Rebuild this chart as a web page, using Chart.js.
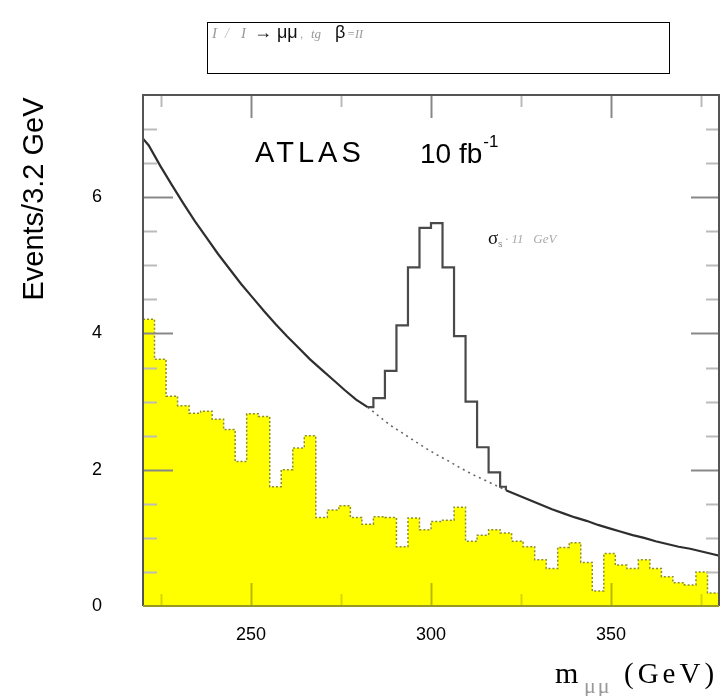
<!DOCTYPE html>
<html>
<head>
<meta charset="utf-8">
<script src="https://cdn.jsdelivr.net/npm/chart.js@4.4.1/dist/chart.umd.min.js"></script>
<style>
  html, body { margin: 0; padding: 0; background: #fff; }
  #wrap { width: 721px; height: 696px; }
</style>
</head>
<body>
<div id="wrap"><canvas id="massChart" width="721" height="696"></canvas></div>
<script>
// m_mumu axis: 50 bins of 3.2 GeV between 220 and 380
var massMin = 220, massMax = 380, binWidth = 3.2;
var xTickLabels = [250, 300, 350];
var yTickLabels = [0, 2, 4, 6];

// smooth background curve (solid, dotted under the peak), read at bin centres
var bkgMass = [220.0, 221.6, 224.8, 228.0, 231.2, 234.4, 237.6, 240.8, 244.0, 247.2, 250.4,
               253.6, 256.8, 260.0, 263.2, 266.4, 269.6, 272.8, 276.0, 279.2, 282.4,
               285.6, 288.8, 292.0, 295.2, 298.4, 301.6, 304.8, 308.0, 311.2, 314.4,
               317.6, 320.8, 324.0, 327.2, 330.4, 333.6, 336.8, 340.0, 343.2, 346.4,
               349.6, 352.8, 356.0, 359.2, 362.4, 365.6, 368.8, 372.0, 375.2, 378.4, 380.0];
var bkgEvents = [6.86, 6.76, 6.46, 6.18, 5.91, 5.65, 5.41, 5.17, 4.95, 4.73, 4.53,
                 4.33, 4.14, 3.96, 3.79, 3.62, 3.47, 3.32, 3.17, 3.03, 2.92,
                 2.78, 2.65, 2.54, 2.43, 2.32, 2.22, 2.13, 2.03, 1.94, 1.86,
                 1.78, 1.70, 1.63, 1.56, 1.49, 1.42, 1.36, 1.30, 1.25, 1.19,
                 1.14, 1.09, 1.04, 1.00, 0.95, 0.91, 0.87, 0.84, 0.80, 0.76, 0.74];
var dottedFrom = 282.4, dottedTo = 320.8;

// signal + background step histogram over the peak (bin low edges)
var peakEdges = [284.0, 287.2, 290.4, 293.6, 296.8, 300.0, 303.2, 306.4, 309.6, 312.8, 316.0, 319.2];
var peakEvents = [3.05, 3.45, 4.12, 4.97, 5.55, 5.62, 4.97, 3.96, 3.00, 2.33, 1.96];
var peakJoinLeft = { x: 282.4, y: 2.92 };
var peakJoinRight = { x: 320.8, y: 1.70 };
var peakEnd = 1.75;

// yellow histogram
var yellowEvents = [4.21, 3.62, 3.08, 2.94, 2.83, 2.86, 2.74, 2.59, 2.12, 2.82,
                    2.78, 1.75, 2.00, 2.32, 2.50, 1.30, 1.41, 1.47, 1.30, 1.20,
                    1.31, 1.30, 0.87, 1.29, 1.12, 1.24, 1.26, 1.45, 0.95, 1.04,
                    1.12, 1.07, 0.95, 0.87, 0.68, 0.55, 0.86, 0.93, 0.64, 0.22,
                    0.77, 0.60, 0.55, 0.68, 0.55, 0.43, 0.34, 0.31, 0.50, 0.19];

function histPoints(vals) {
  var pts = [];
  for (var i = 0; i < vals.length; i++) {
    pts.push({ x: massMin + i * binWidth, y: vals[i] });
  }
  pts.push({ x: massMin + vals.length * binWidth, y: vals[vals.length - 1] });
  return pts;
}

var bkgPoints = bkgMass.map(function (m, i) { return { x: m, y: bkgEvents[i] }; });

var peakPoints = [peakJoinLeft];
peakEvents.forEach(function (v, i) { peakPoints.push({ x: peakEdges[i], y: v }); });
peakPoints.push({ x: peakEdges[peakEdges.length - 1], y: peakEnd });
peakPoints.push(peakJoinRight);

function underPeak(c) {
  var x0 = c.p0.parsed.x;
  return x0 >= dottedFrom && x0 < dottedTo;
}

var decorations = {
  id: 'decorations',
  afterDraw: function (chart) {
    var ctx = chart.ctx, a = chart.chartArea;
    var xs = chart.scales.x, ys = chart.scales.y;
    ctx.save();

    function vline(x, y0, y1, col) {
      ctx.strokeStyle = col; ctx.lineWidth = 2;
      ctx.beginPath(); ctx.moveTo(x, y0); ctx.lineTo(x, y1); ctx.stroke();
    }
    function hline(y, x0, x1, col) {
      ctx.strokeStyle = col; ctx.lineWidth = 2;
      ctx.beginPath(); ctx.moveTo(x0, y); ctx.lineTo(x1, y); ctx.stroke();
    }
    for (var m = 225; m < massMax; m += 25) {
      var px = Math.round(xs.getPixelForValue(m)) + 0.5;
      var major = (m % 50 === 0);
      vline(px, a.top, a.top + (major ? 23 : 12), major ? '#888' : '#bbb');
      vline(px, a.bottom, a.bottom - (major ? 23 : 12), major ? '#b8b800' : '#d6d600');
    }
    for (var v = 0.5; v < 7.5; v += 0.5) {
      var py = Math.round(ys.getPixelForValue(v)) + 0.5;
      var maj = (v % 2 === 0);
      hline(py, a.left, a.left + (maj ? 30 : 14), maj ? '#888' : '#bbb');
      hline(py, a.right, a.right - (maj ? 28 : 13), maj ? '#888' : '#bbb');
    }

    // frame
    ctx.strokeStyle = '#555'; ctx.lineWidth = 2;
    ctx.beginPath();
    ctx.moveTo(a.left, a.bottom); ctx.lineTo(a.left, a.top);
    ctx.lineTo(a.right, a.top); ctx.lineTo(a.right, a.bottom);
    ctx.stroke();
    ctx.strokeStyle = '#9a9a20';
    ctx.beginPath(); ctx.moveTo(a.left, a.bottom); ctx.lineTo(a.right, a.bottom); ctx.stroke();

    // title box
    ctx.strokeStyle = '#000'; ctx.lineWidth = 1;
    ctx.strokeRect(207.5, 22.5, 462, 51);
    var parts = [
      ['I', 212, '#999', 'italic 15px "Liberation Serif", serif'],
      ['/', 225, '#bbb', 'italic 14px "Liberation Serif", serif'],
      ['I', 241, '#999', 'italic 15px "Liberation Serif", serif'],
      ['\u2192', 254, '#111', '18px "Liberation Sans", sans-serif'],
      ['\u03bc\u03bc', 277, '#111', '18px "Liberation Sans", sans-serif'],
      [',', 300, '#aaa', '12px "Liberation Sans", sans-serif'],
      ['tg', 311, '#999', 'italic 13px "Liberation Serif", serif'],
      ['\u03b2', 335, '#111', '18px "Liberation Sans", sans-serif'],
      ['=II', 347, '#999', 'italic 12px "Liberation Serif", serif']
    ];
    ctx.textBaseline = 'alphabetic'; ctx.textAlign = 'left';
    parts.forEach(function (p) {
      ctx.font = p[3]; ctx.fillStyle = p[2];
      ctx.fillText(p[0], p[1], 38);
    });

    // ATLAS label
    ctx.fillStyle = '#000';
    ctx.font = '29px "Liberation Sans", sans-serif';
    if ('letterSpacing' in ctx) ctx.letterSpacing = '4px';
    ctx.fillText('ATLAS', 255, 162);
    if ('letterSpacing' in ctx) ctx.letterSpacing = '0px';
    ctx.font = '28px "Liberation Sans", sans-serif';
    ctx.fillText('10 fb', 420, 163);
    var w = ctx.measureText('10 fb').width;
    ctx.font = '17px "Liberation Sans", sans-serif';
    ctx.fillText('-1', 421 + w, 147);

    // sigma label
    ctx.font = '19px "Liberation Serif", serif';
    ctx.fillStyle = '#111';
    ctx.fillText('\u03c3', 488, 244);
    ctx.font = '9px "Liberation Sans", sans-serif';
    ctx.fillStyle = '#888';
    ctx.fillText('s', 498, 247);
    ctx.font = 'italic 13px "Liberation Serif", serif';
    ctx.fillStyle = '#aaa';
    ctx.fillText('\u00b7 11   GeV', 505, 243);

    // y axis title
    ctx.save();
    ctx.translate(43, 199);
    ctx.rotate(-Math.PI / 2);
    ctx.font = '29px "Liberation Sans", sans-serif';
    var tw = ctx.measureText('Events/3.2 GeV').width;
    ctx.scale(203 / tw, 1);
    ctx.textAlign = 'center';
    ctx.fillStyle = '#000';
    ctx.fillText('Events/3.2 GeV', 0, 0);
    ctx.restore();

    // x axis title
    ctx.textAlign = 'left';
    ctx.fillStyle = '#000';
    ctx.font = '30px "Liberation Serif", serif';
    ctx.fillText('m', 555, 683);
    ctx.font = '22px "Liberation Serif", serif';
    ctx.fillStyle = '#999';
    if ('letterSpacing' in ctx) ctx.letterSpacing = '2px';
    ctx.fillText('\u03bc\u03bc', 584, 693);
    ctx.fillStyle = '#000';
    ctx.font = '29px "Liberation Serif", serif';
    if ('letterSpacing' in ctx) ctx.letterSpacing = '4px';
    ctx.fillText('(GeV)', 624, 683);
    if ('letterSpacing' in ctx) ctx.letterSpacing = '0px';

    ctx.restore();
  }
};

var ctx = document.getElementById('massChart');

var massChart = new Chart(ctx, {
  type: 'line',
  data: {
    datasets: [
      {
        label: 'peak',
        data: peakPoints,
        stepped: 'before',
        borderColor: '#4a4a4a',
        borderWidth: 2.2,
        pointRadius: 0,
        fill: false,
        order: 0
      },
      {
        label: 'background',
        data: bkgPoints,
        borderColor: '#2e2e2e',
        borderWidth: 2.2,
        pointRadius: 0,
        fill: false,
        segment: {
          borderDash: function (c) { return underPeak(c) ? [2, 4] : undefined; },
          borderWidth: function (c) { return underPeak(c) ? 1.6 : undefined; },
          borderColor: function (c) { return underPeak(c) ? '#666' : undefined; }
        },
        order: 1
      },
      {
        label: 'yellow',
        data: histPoints(yellowEvents),
        stepped: 'before',
        borderColor: '#8c8c30',
        borderWidth: 1.5,
        borderDash: [2, 2],
        backgroundColor: '#ffff00',
        pointRadius: 0,
        fill: 'origin',
        order: 2
      }
    ]
  },
  plugins: [decorations],
  options: {
    responsive: false,
    animation: false,
    devicePixelRatio: 1,
    layout: { padding: { left: 0, right: 2, top: 95, bottom: 0 } },
    plugins: { legend: { display: false }, tooltip: { enabled: false } },
    scales: {
      x: {
        type: 'linear',
        min: massMin,
        max: massMax,
        afterBuildTicks: function (s) { s.ticks = xTickLabels.map(function (v) { return { value: v }; }); },
        afterFit: function (s) { s.height = 90; },
        grid: { display: false, drawTicks: false },
        border: { display: false },
        ticks: { padding: 18, color: '#000', maxRotation: 0, autoSkip: false,
                 font: { family: '"Liberation Sans", sans-serif', size: 18 } }
      },
      y: {
        min: 0,
        max: 7.5,
        afterBuildTicks: function (s) { s.ticks = yTickLabels.map(function (v) { return { value: v }; }); },
        afterFit: function (s) { s.width = 143; },
        grid: { display: false, drawTicks: false },
        border: { display: false },
        ticks: { padding: 41, color: '#000', autoSkip: false,
                 font: { family: '"Liberation Sans", sans-serif', size: 18 } }
      }
    }
  }
});
</script>
</body>
</html>
